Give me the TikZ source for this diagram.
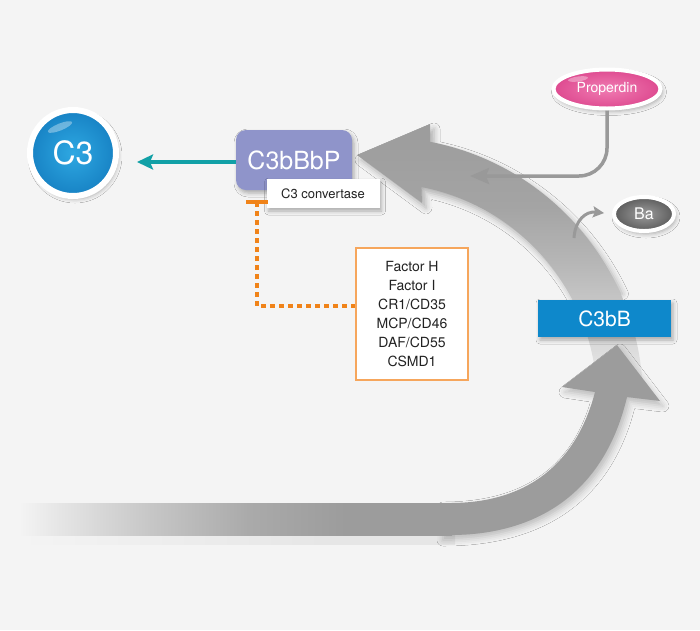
\documentclass[tikz,border=0pt]{standalone}
\usepackage{fontspec}
\setmainfont{TeX Gyre Heros}
\usetikzlibrary{arrows.meta,shapes.geometric,shadows.blur}
\definecolor{bg}{HTML}{F4F4F4}
\definecolor{agray}{HTML}{9C9C9C}
\definecolor{g1}{HTML}{E4E4E4}
\definecolor{g2}{HTML}{CFCFCF}
\definecolor{g3}{HTML}{B6B6B6}
\definecolor{g4}{HTML}{A4A4A4}
\definecolor{h1}{HTML}{E4E4E4}
\definecolor{h2}{HTML}{C6C6C6}
\definecolor{h3}{HTML}{AAAAAA}
\definecolor{sh0}{HTML}{F4F4F4}
\definecolor{sh1}{HTML}{E6E6E6}
\definecolor{teal}{HTML}{11A0A6}
\definecolor{lav}{HTML}{8F94CA}
\definecolor{c3in}{HTML}{2EA8E2}
\definecolor{c3out}{HTML}{1782C4}
\definecolor{c3bblue}{HTML}{0E88CB}
\definecolor{orng}{HTML}{F08319}
\definecolor{obox}{HTML}{F6A65C}
\definecolor{pinkin}{HTML}{F07CB2}
\definecolor{pinkout}{HTML}{DE4A90}
\definecolor{bain}{HTML}{9C9C9C}
\definecolor{baout}{HTML}{5C5C5C}
\definecolor{lgray}{HTML}{999999}
\definecolor{txt}{HTML}{222222}
\pgfdeclareverticalshading{arcfade}{100bp}{color(0bp)=(bg); color(25bp)=(bg); color(31bp)=(g1); color(39bp)=(g2); color(50bp)=(g3); color(60bp)=(g4); color(75bp)=(agray); color(100bp)=(agray)}
\pgfdeclarehorizontalshading{bandfade}{100bp}{color(0bp)=(bg); color(26bp)=(bg); color(31bp)=(h1); color(41bp)=(h2); color(52bp)=(h3); color(63bp)=(agray); color(100bp)=(agray)}
\pgfdeclarehorizontalshading{shadowfade}{100bp}{color(0bp)=(sh0); color(25bp)=(sh0); color(60bp)=(sh1); color(100bp)=(sh1)}
\tikzset{
  softshadow/.style={blur shadow={shadow xshift=2pt, shadow yshift=-3pt, shadow blur radius=4pt, shadow opacity=30}},
  bigshadow/.style={blur shadow={shadow xshift=4pt, shadow yshift=-5pt, shadow blur radius=6pt, shadow opacity=28}},
  c3node/.style={circle, minimum size=86pt, inner sep=0pt, draw=white, line width=6pt,
    inner color=c3in, outer color=c3out, text=white, font=\fontsize{32}{36}\selectfont, softshadow},
  bbpnode/.style={rectangle, rounded corners=10pt, fill=lav, minimum width=116pt, minimum height=60pt,
    text=white, font=\fontsize{25}{30}\selectfont, softshadow},
  convnode/.style={rectangle, fill=white, minimum width=113pt, minimum height=29pt, text=txt,
    font=\fontsize{13}{15}\selectfont, softshadow},
  factnode/.style={rectangle, fill=white, draw=obox, line width=1.5pt, minimum width=112pt,
    minimum height=132pt, align=center, text=txt, font=\fontsize{14}{19}\selectfont},
  propnode/.style={ellipse, minimum width=107pt, minimum height=39pt, inner sep=0pt, draw=white,
    line width=4pt, inner color=pinkin, outer color=pinkout, text=white,
    font=\fontsize{14}{16}\selectfont, softshadow},
  banode/.style={ellipse, minimum width=60pt, minimum height=34pt, inner sep=0pt, draw=white,
    line width=4pt, inner color=bain, outer color=baout, text=white,
    font=\fontsize{16}{18}\selectfont, softshadow},
  c3bbnode/.style={rectangle, fill=c3bblue, minimum width=133pt, minimum height=37pt, text=white,
    font=\fontsize{21}{24}\selectfont, softshadow},
  gline/.style={draw=lgray, line width=3.5pt},
  hilite/.style={fill=white, opacity=0.35}
}
\begin{document}
\begin{tikzpicture}[x=1pt, y=-1pt]
\useasboundingbox (0,0) rectangle (700,630);
\fill[bg] (0,0) rectangle (700,630);

% upper curved arrow (fading toward its tail)
\path[bigshadow] (421.4,187) -- (422,203) -- (357,155) -- (430,124) -- (430.2,141.8)
  arc[start angle=-79, end angle=-25, radius=263] -- (576.7,308.3)
  arc[start angle=-25, end angle=-79, radius=217] -- cycle;
\path[shading=arcfade] (421.4,187) -- (422,203) -- (357,155) -- (430,124) -- (430.2,141.8)
  arc[start angle=-79, end angle=0, radius=263] -- (597,400)
  arc[start angle=0, end angle=-79, radius=217] -- cycle;

% lower curved arrow
\path[shading=shadowfade] (20,535) rectangle (455,544);
\path[blur shadow={shadow xshift=3pt, shadow yshift=-5pt, shadow blur radius=6pt, shadow opacity=22}]
  (440,503) .. controls (540,503) and (580,450) .. (595,392)
  -- (562,387) -- (617,345) -- (660,401) -- (627,397)
  .. controls (605,490) and (540,535) .. (440,535) -- cycle;
\path[shading=bandfade] (10,503) rectangle (452,535);
\fill[agray] (450,503) .. controls (540,503) and (580,450) .. (595,392)
  -- (562,387) -- (617,345) -- (660,401) -- (627,397)
  .. controls (605,490) and (540,535) .. (450,535) -- cycle;

% nodes
\node[c3node] (c3) at (73,153) {C3};
\fill[hilite, rotate around={22:(60,127)}] (60,127) ellipse[x radius=13, y radius=3.5];

\node[bbpnode] (bbp) at (294,160) {C3bBbP};
\node[convnode] (conv) at (323,193.5) {C3 convertase};
\node[factnode] (fact) at (412,314) {Factor H\\Factor I\\CR1/CD35\\MCP/CD46\\DAF/CD55\\CSMD1};
\node[propnode] (prop) at (607,89) {Properdin};
\fill[hilite, rotate around={8:(578,79)}] (578,79) ellipse[x radius=10, y radius=2.5];
\node[banode] (ba) at (644,214) {Ba};
\fill[hilite, rotate around={10:(633,198)}] (633,198) ellipse[x radius=7, y radius=2.2];
\node[c3bbnode] (c3bb) at (604.5,318.5) {C3bB};

% coordinates for free ends
\coordinate (tealtip) at (137,162);
\coordinate (ptip) at (470,176);
\coordinate (tbar) at (257,202);
\coordinate (bastart) at (574,238);

% teal arrow C3bBbP -> C3
\draw[teal, line width=3.5pt, -{Stealth[length=16pt, width=15pt, inset=3pt]}] (bbp.west |- tealtip) -- (tealtip);

% properdin connector
\draw[gline, rounded corners=28pt, -{Stealth[length=19pt, width=16pt, inset=3pt]}] (prop.south) |- (ptip);

% Ba arrow
\draw[draw=lgray, line width=3pt, -{Stealth[length=11pt, width=11pt, inset=2pt]}, shorten >=8pt]
  (bastart) .. controls (575,220) and (586,211) .. (ba.west);

% inhibition line
\draw[orng, line width=3.5pt] (246,202) -- (268,202);
\draw[orng, line width=4pt, dash pattern=on 5pt off 4pt] (tbar) |- ([yshift=8pt]fact.west);
\end{tikzpicture}
\end{document}
